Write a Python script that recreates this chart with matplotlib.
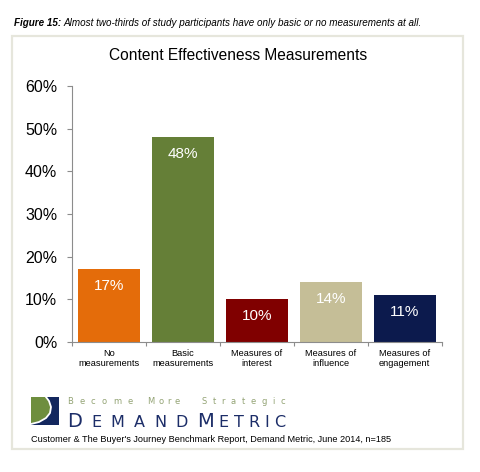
import matplotlib
matplotlib.use('Agg')
import matplotlib.pyplot as plt
from matplotlib.patches import Rectangle, Polygon
import numpy as np

# data
categories = ['No\nmeasurements', 'Basic\nmeasurements', 'Measures of\ninterest',
              'Measures of\ninfluence', 'Measures of\nengagement']
values = [17, 48, 10, 14, 11]
bar_colors = ['#E46C0A', '#657F37', '#800000', '#C5BE97', '#0C1A4D']
yticks = [0, 10, 20, 30, 40, 50, 60]

caption_bold = 'Figure 15:'
caption_text = 'Almost two-thirds of study participants have only basic or no measurements at all.'
title = 'Content Effectiveness Measurements'
source = "Customer & The Buyer's Journey Benchmark Report, Demand Metric, June 2014, n=185"

W, H = 480, 472
plt.rcParams['font.family'] = ['Liberation Sans', 'DejaVu Sans']

fig = plt.figure(figsize=(4.8, 4.72), dpi=100)
fig.patch.set_facecolor('white')
renderer = fig.canvas.get_renderer()


def fx(x):
    return x / W


def fy(y):
    return 1 - y / H


# outer frame
fig.patches.append(Rectangle((fx(12), fy(449)), (463 - 12) / W, (449 - 36) / H,
                             transform=fig.transFigure, facecolor='white',
                             edgecolor='#E6E6DC', lw=1.6, zorder=-5))

# caption above the frame
t1 = fig.text(fx(14), fy(23), caption_bold, fontsize=7.1, fontweight='bold',
              style='italic', va='center', ha='left')
bb = t1.get_window_extent(renderer=renderer)
fig.text(fx(bb.x1 + 2.5), fy(23), caption_text, fontsize=7.1, style='italic',
         va='center', ha='left')

fig.text(fx(238), fy(56), title, fontsize=11.2, ha='center', va='center')

# bar chart
ax = fig.add_axes([71.7 / W, 130 / H, 370 / W, 256 / H])
ax.patch.set_alpha(0)
x = np.arange(len(values))
ax.bar(x, values, width=0.84, color=bar_colors, zorder=2)
for i, v in enumerate(values):
    ax.annotate(f'{v}%', (i, v), xytext=(0, -12.2), textcoords='offset points',
                ha='center', va='center', color='white', fontsize=11)

ax.set_xlim(-0.5, len(values) - 0.5)
ax.set_ylim(0, 60)
ax.set_yticks(yticks)
ax.set_yticklabels([f'{v}%' for v in yticks])
ax.set_xticks(x)
ax.set_xticklabels(categories)
ax.set_xticks(np.arange(-0.5, len(values)), minor=True)

for s in ['top', 'right']:
    ax.spines[s].set_visible(False)
for s in ['left', 'bottom']:
    ax.spines[s].set_color('#8C8C8C')
    ax.spines[s].set_linewidth(0.8)

ax.tick_params(axis='y', length=3.6, width=0.8, color='#8C8C8C', pad=6.8, labelsize=11.5)
ax.tick_params(axis='x', which='major', length=0, pad=5.4, labelsize=6.7)
ax.tick_params(axis='x', which='minor', length=3, width=0.8, color='#8C8C8C')
for lab in ax.get_xticklabels():
    lab.set_linespacing(1.1)

# logo icon
fig.patches.append(Rectangle((fx(31), fy(425)), 28 / W, 28 / H, transform=fig.transFigure,
                             facecolor='#13275E', edgecolor='none'))
curve = [(46, 397), (49, 401), (51, 407), (50, 413), (46, 418), (39, 422), (31, 424)]
green = [(31, 397)] + curve
fig.patches.append(Polygon([(fx(a), fy(b)) for a, b in green], closed=True,
                           transform=fig.transFigure, facecolor='#6E8E3E', edgecolor='none'))
fig.lines.append(plt.Line2D([fx(a) for a, b in curve], [fy(b) for a, b in curve],
                            transform=fig.transFigure, color='white', lw=1.3))


def spread(parts, x0, x1, y_base, color):
    # place letters one by one so that the word runs from x0 to x1 (pixels)
    texts = []
    for s, size in parts:
        for ch in s:
            texts.append(fig.text(0, fy(y_base), ch, fontsize=size, color=color,
                                  va='baseline', ha='left', family='DejaVu Sans'))
    widths = [t.get_window_extent(renderer=renderer).width for t in texts]
    gap = (x1 - x0 - sum(widths)) / max(len(texts) - 1, 1)
    xpos = x0
    for t, w in zip(texts, widths):
        t.set_x(fx(xpos))
        xpos += w + gap


tag_color = '#93A374'
spread([('Become', 6.0)], 67, 133, 404.3, tag_color)
spread([('More', 6.0)], 147, 180, 404.3, tag_color)
spread([('Strategic', 6.0)], 202, 285, 404.3, tag_color)

name_color = '#1C2D68'
spread([('D', 14.0), ('EMAND', 11.5)], 67, 188, 426.7, name_color)
spread([('M', 14.0), ('ETRIC', 11.5)], 197, 285, 426.7, name_color)

fig.text(fx(31), fy(439), source, fontsize=6.6, ha='left', va='center')

fig.savefig('out.png', dpi=100)
